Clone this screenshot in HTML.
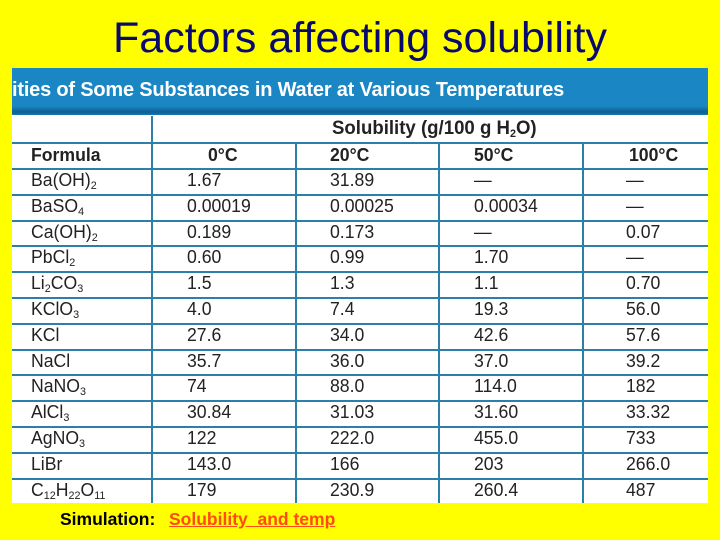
<!DOCTYPE html>
<html><head><meta charset="utf-8"><style>
body{margin:0;width:720px;height:540px;background:#ffff00;position:relative;overflow:hidden;font-family:"Liberation Sans",sans-serif}
.t{position:absolute;white-space:nowrap}
#title{left:0;width:720px;top:14px;text-align:center;font-size:43px;color:#0a0a6e}
#tbl{position:absolute;left:12px;top:68px;width:696px;height:435px;background:#fff;overflow:hidden}
#banner{position:absolute;left:0;top:0;width:696px;height:47px;background:linear-gradient(#1a86c4 0,#1a86c4 38px,#0e5f91 44px,#1878b0 47px)}
#banner span{position:absolute;left:0;top:11px;font-size:20px;font-weight:bold;color:#fff;letter-spacing:-0.2px}
.vl{position:absolute;width:2px;background:#2b7fa8}
.hl{position:absolute;left:0;width:696px;height:2px;background:#2b7fa8}
.c{position:absolute;font-size:18px;color:#222;transform:scaleX(0.98);transform-origin:left;white-space:nowrap}
.h{font-weight:bold}
sub{font-size:11px;vertical-align:-3px}
</style></head><body>
<div id="title" class="t">Factors affecting solubility</div>
<div id="tbl">
<div id="banner"><span>ities of Some Substances in Water at Various Temperatures</span></div>
</div>
<div class="t" style="left:60px;top:509px;font-size:17.5px;font-weight:bold;color:#000">Simulation:</div>
<div class="t" style="left:169px;top:509px;font-size:17.5px;font-weight:bold;color:#ff4a14;text-decoration:underline">Solubility&nbsp; and temp</div>
<script>
const rows=[["Ba(OH)<sub>2</sub>","1.67","31.89","—","—"],["BaSO<sub>4</sub>","0.00019","0.00025","0.00034","—"],["Ca(OH)<sub>2</sub>","0.189","0.173","—","0.07"],["PbCl<sub>2</sub>","0.60","0.99","1.70","—"],["Li<sub>2</sub>CO<sub>3</sub>","1.5","1.3","1.1","0.70"],["KClO<sub>3</sub>","4.0","7.4","19.3","56.0"],["KCl","27.6","34.0","42.6","57.6"],["NaCl","35.7","36.0","37.0","39.2"],["NaNO<sub>3</sub>","74","88.0","114.0","182"],["AlCl<sub>3</sub>","30.84","31.03","31.60","33.32"],["AgNO<sub>3</sub>","122","222.0","455.0","733"],["LiBr","143.0","166","203","266.0"],["C<sub>12</sub>H<sub>22</sub>O<sub>11</sub>","179","230.9","260.4","487"]];
const g=document.getElementById('tbl');
const colX=[19,175,318,462,614];
const vx=[139,283,426,570];
vx.forEach(x=>{const d=document.createElement('div');d.className='vl';d.style.left=x+'px';d.style.top='48px';d.style.height='390px';

g.appendChild(d);});
const cov=document.createElement('div');cov.style.cssText='position:absolute;left:141px;top:48px;width:555px;height:26px;background:#fff';g.appendChild(cov);
function hl(y){const d=document.createElement('div');d.className='hl';d.style.top=y+'px';

g.appendChild(d);}
hl(74);
const sol=document.createElement('div');sol.className='c h';sol.style.left='320px';sol.style.top='50px';sol.style.fontSize='19px';sol.innerHTML='Solubility (g/100 g H<sub>2</sub>O)';

g.appendChild(sol);
const hd=["Formula","0°C","20°C","50°C","100°C"];const hx=[19,196,318,462,617];
hd.forEach((t,i)=>{const d=document.createElement('div');d.className='c h';d.style.left=hx[i]+'px';d.style.top='77px';d.textContent=t;

g.appendChild(d);});
hl(100);
const rh=25.8;
rows.forEach((r,j)=>{const y=100+j*rh;if(j>0)hl(Math.round(y));
r.forEach((t,i)=>{const d=document.createElement('div');d.className='c';d.style.left=colX[i]+'px';d.style.top=(y+2)+'px';d.innerHTML=t;

g.appendChild(d);});});
</script>
</body></html>
